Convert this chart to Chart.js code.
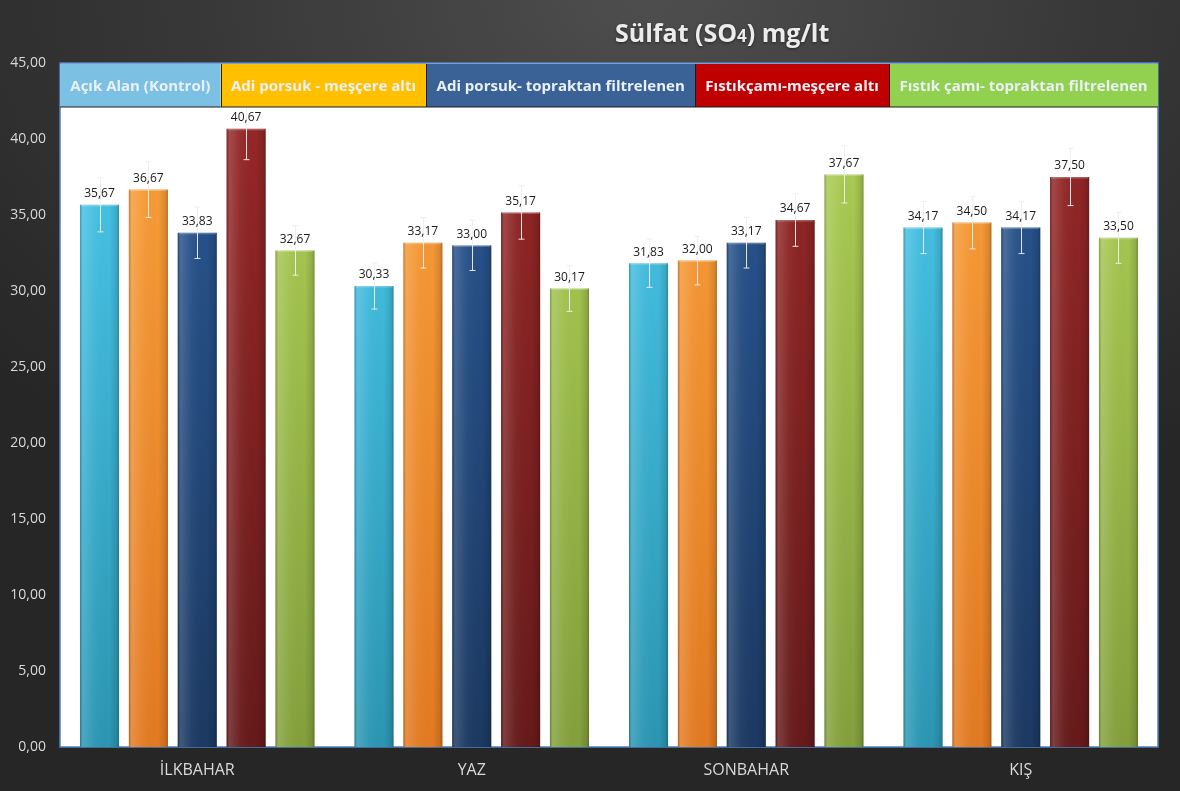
<!DOCTYPE html>
<html>
<head>
<meta charset="utf-8">
<script src="https://cdn.jsdelivr.net/npm/chart.js@4"></script>
<style>
    html, body { margin: 0; padding: 0; }
    body {
        width: 1180px;
        height: 791px;
        overflow: hidden;
        background: radial-gradient(ellipse 75% 70% at 55% 0%, #4e4e4e 0%, #363636 55%, #262626 100%);
    }
    #wrap { position: relative; width: 1180px; height: 791px; }
</style>
</head>
<body>
<div id="wrap"><canvas id="sulfatChart"></canvas></div>
<script>
// data
var seasons = ['İLKBAHAR', 'YAZ', 'SONBAHAR', 'KIŞ'];
var seriesNames = [
    'Açık Alan (Kontrol)',
    'Adi porsuk - meşçere altı',
    'Adi porsuk- topraktan filtrelenen',
    'Fıstıkçamı-meşçere altı',
    'Fıstık çamı- topraktan filtrelenen'
];
var acikAlan = [35.67, 30.33, 31.83, 34.17];
var adiPorsukMescere = [36.67, 33.17, 32.00, 34.50];
var adiPorsukToprak = [33.83, 33.00, 33.17, 34.17];
var fistikcamiMescere = [40.67, 35.17, 34.67, 37.50];
var fistikCamiToprak = [32.67, 30.17, 37.67, 33.50];

// error bar half-lengths (estimated from the whiskers)
var acikAlanErr = [1.78, 1.52, 1.59, 1.71];
var adiPorsukMescereErr = [1.83, 1.66, 1.60, 1.73];
var adiPorsukToprakErr = [1.69, 1.65, 1.66, 1.71];
var fistikcamiMescereErr = [2.03, 1.76, 1.73, 1.88];
var fistikCamiToprakErr = [1.63, 1.51, 1.88, 1.68];

var yMin = 0, yMax = 45, yStep = 5;

// styling
var barTop = ['#4ccbef', '#fba23c', '#2a5996', '#9a2828', '#b0d257'];
var barBottom = ['#2b96b3', '#e27a22', '#1b3962', '#661a1a', '#83a03c'];
var legendColors = ['#7cc0e4', '#ffc000', '#3a6296', '#c00000', '#92d050'];

function fmt(v) {
    return v.toFixed(2).replace('.', ',');
}

function barFill(i) {
    return function (c) {
        var a = c.chart.chartArea;
        if (!a) return barTop[i];
        var g = c.chart.ctx.createLinearGradient(0, a.top, 0, a.bottom);
        g.addColorStop(0, barTop[i]);
        g.addColorStop(1, barBottom[i]);
        return g;
    };
}

var values = [acikAlan, adiPorsukMescere, adiPorsukToprak, fistikcamiMescere, fistikCamiToprak];
var errors = [acikAlanErr, adiPorsukMescereErr, adiPorsukToprakErr, fistikcamiMescereErr, fistikCamiToprakErr];

var datasets = values.map(function (d, i) {
    return {
        label: seriesNames[i],
        data: d,
        errors: errors[i],
        backgroundColor: barFill(i),
        borderWidth: 0,
        barPercentage: 0.8,
        categoryPercentage: 0.89
    };
});

// white plot area with blue frame
var plotFrame = {
    id: 'plotFrame',
    beforeDraw: function (chart) {
        var ctx = chart.ctx, a = chart.chartArea;
        ctx.save();
        ctx.fillStyle = '#ffffff';
        ctx.fillRect(a.left, a.top, a.right - a.left, a.bottom - a.top);
        ctx.strokeStyle = '#4f81bd';
        ctx.lineWidth = 1.5;
        ctx.strokeRect(a.left, a.top, a.right - a.left, a.bottom - a.top);
        ctx.restore();
    }
};

// bar shading, whiskers and value labels
var barExtras = {
    id: 'barExtras',
    afterDatasetsDraw: function (chart) {
        var ctx = chart.ctx;
        var y = chart.scales.y;
        ctx.save();
        chart.data.datasets.forEach(function (ds, i) {
            var meta = chart.getDatasetMeta(i);
            meta.data.forEach(function (bar, j) {
                var p = bar.getProps(['x', 'y', 'base', 'width'], true);
                var left = p.x - p.width / 2;
                var g = ctx.createLinearGradient(left, 0, left + p.width, 0);
                g.addColorStop(0, 'rgba(0,0,0,0.20)');
                g.addColorStop(0.07, 'rgba(255,255,255,0.16)');
                g.addColorStop(0.35, 'rgba(255,255,255,0.04)');
                g.addColorStop(0.75, 'rgba(0,0,0,0)');
                g.addColorStop(0.94, 'rgba(0,0,0,0.12)');
                g.addColorStop(1, 'rgba(0,0,0,0.28)');
                ctx.fillStyle = g;
                ctx.fillRect(left, p.y, p.width, p.base - p.y);
                ctx.fillStyle = 'rgba(255,255,255,0.25)';
                ctx.fillRect(left + 1, p.y, p.width - 2, 1.5);
            });
        });
        // whiskers
        ctx.strokeStyle = 'rgba(238,238,238,0.95)';
        ctx.lineWidth = 1;
        chart.data.datasets.forEach(function (ds, i) {
            var meta = chart.getDatasetMeta(i);
            meta.data.forEach(function (bar, j) {
                var v = ds.data[j], e = ds.errors[j];
                var x = Math.round(bar.x) + 0.5;
                var t = y.getPixelForValue(v + e);
                var b = y.getPixelForValue(v - e);
                ctx.beginPath();
                ctx.moveTo(x, t);
                ctx.lineTo(x, b);
                ctx.moveTo(x - 3, t);
                ctx.lineTo(x + 3, t);
                ctx.moveTo(x - 3, b);
                ctx.lineTo(x + 3, b);
                ctx.stroke();
            });
        });
        // value labels
        ctx.fillStyle = '#1a1a1a';
        ctx.font = '12px "Open Sans"';
        ctx.textAlign = 'center';
        ctx.textBaseline = 'bottom';
        chart.data.datasets.forEach(function (ds, i) {
            var meta = chart.getDatasetMeta(i);
            meta.data.forEach(function (bar, j) {
                ctx.fillText(fmt(ds.data[j]), bar.x, bar.y - 5);
            });
        });
        ctx.restore();
    }
};

// legend as a row of coloured cells across the top of the plot
var cellLegend = {
    id: 'cellLegend',
    afterDraw: function (chart) {
        var ctx = chart.ctx, a = chart.chartArea;
        var h = 43;
        ctx.save();
        ctx.font = 'bold 15px "Open Sans"';
        var tw = seriesNames.map(function (s) { return ctx.measureText(s).width; });
        var total = tw.reduce(function (s, w) { return s + w; }, 0);
        var extra = (a.right - a.left - total) / seriesNames.length;
        var x = a.left;
        ctx.textAlign = 'center';
        ctx.textBaseline = 'middle';
        seriesNames.forEach(function (s, i) {
            var w = tw[i] + extra;
            ctx.fillStyle = legendColors[i];
            ctx.fillRect(x, a.top + 1, w, h);
            ctx.strokeStyle = '#1c1c1c';
            ctx.lineWidth = 1;
            ctx.beginPath();
            ctx.moveTo(x, a.top + h + 1);
            ctx.lineTo(x + w, a.top + h + 1);
            if (i > 0) {
                ctx.moveTo(Math.round(x) + 0.5, a.top + 1);
                ctx.lineTo(Math.round(x) + 0.5, a.top + h + 1);
            }
            ctx.stroke();
            ctx.fillStyle = '#eaf0f6';
            ctx.fillText(s, x + w / 2, a.top + h / 2 + 2);
            x += w;
        });
        ctx.restore();
    }
};

// title with the small 4
var titlePlugin = {
    id: 'titlePlugin',
    afterDraw: function (chart) {
        var ctx = chart.ctx;
        var parts = [['Sülfat (SO', 'bold 25px "Open Sans"'], ['4', 'bold 17px "Open Sans"'], [') mg/lt', 'bold 25px "Open Sans"']];
        ctx.save();
        var widths = parts.map(function (p) { ctx.font = p[1]; return ctx.measureText(p[0]).width; });
        var total = widths.reduce(function (s, w) { return s + w; }, 0);
        var x = chart.width * 0.612 - total / 2;
        ctx.fillStyle = '#ececec';
        ctx.textBaseline = 'alphabetic';
        ctx.shadowColor = 'rgba(0,0,0,0.5)';
        ctx.shadowBlur = 3;
        ctx.shadowOffsetY = 1;
        parts.forEach(function (p, i) {
            ctx.font = p[1];
            ctx.fillText(p[0], x, 42);
            x += widths[i];
        });
        ctx.restore();
    }
};

var ctx = document.getElementById('sulfatChart').getContext('2d');

var sulfatChart = new Chart(ctx, {
    type: 'bar',
    data: {
        labels: seasons,
        datasets: datasets
    },
    options: {
        responsive: true,
        maintainAspectRatio: false,
        animation: false,
        layout: {
            padding: { left: 0, right: 22, top: 63, bottom: 0 }
        },
        plugins: {
            legend: { display: false },
            title: { display: false },
            tooltip: { enabled: false }
        },
        scales: {
            y: {
                min: yMin,
                max: yMax,
                afterFit: function (s) { s.width = 60; },
                ticks: {
                    stepSize: yStep,
                    padding: 14,
                    color: '#d9d9d9',
                    font: { family: '"Open Sans"', size: 14 },
                    callback: function (v) { return fmt(v); }
                },
                grid: { display: false, drawTicks: false },
                border: { display: false }
            },
            x: {
                afterFit: function (s) { s.height = 44; },
                ticks: {
                    padding: 14,
                    color: '#d9d9d9',
                    font: { family: '"Open Sans"', size: 16 },
                    maxRotation: 0,
                    minRotation: 0
                },
                grid: { display: false, drawTicks: false },
                border: { display: false }
            }
        }
    },
    plugins: [plotFrame, barExtras, cellLegend, titlePlugin]
});
</script>
</body>
</html>
